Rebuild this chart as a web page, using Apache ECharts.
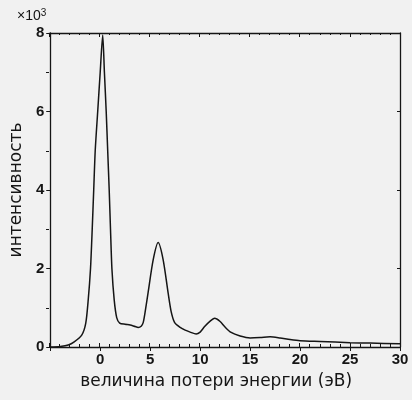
<!DOCTYPE html>
<html>
<head>
<meta charset="utf-8">
<script src="https://cdn.jsdelivr.net/npm/echarts@6/dist/echarts.min.js"></script>
<style>
  html, body { margin: 0; padding: 0; background: #f1f1f1; }
  #chart { width: 412px; height: 400px; }
</style>
</head>
<body>
<div id="chart"></div>
<script>
// Electron energy-loss spectrum: energy loss (eV) vs. intensity (counts)
const energyLoss = [
  -5, -4, -3.2, -2.6, -1.85, -1.45, -1.2, -0.97, -0.8, -0.65, -0.5, -0.25, 0.0, 0.25,
  0.42, 0.6, 0.75, 0.9, 1.03, 1.17, 1.4, 1.65, 1.95, 2.5, 3.0, 3.5, 3.8, 4.1, 4.3,
  4.5, 4.8, 5.3, 5.8, 6.3, 6.8, 7.1, 7.45, 8.0, 8.5, 9.0, 9.6, 10.0, 10.45, 11.0,
  11.45, 12.0, 12.45, 13.1, 14, 15, 16, 17, 18, 19, 20, 22, 25, 27, 30
];
const intensity = [
  0, 15, 50, 130, 300, 600, 1200, 2000, 3000, 4000, 5000, 6000, 7000, 7950,
  7000, 6000, 5000, 4000, 3000, 2000, 1200, 750, 610, 580, 560, 520, 500, 530, 620,
  900, 1400, 2220, 2660, 2220, 1370, 900, 620, 500, 430, 380, 330, 380, 520, 660,
  730, 650, 520, 370, 280, 230, 240, 260, 230, 190, 160, 140, 110, 100, 80
];
const xTicks = [0, 5, 10, 15, 20, 25, 30];
const yTicks = [0, 2, 4, 6, 8];

const ink = '#151515';
const font = 'Liberation Sans, Arial, sans-serif';
const nameFont = 'DejaVu Sans, sans-serif';
const plotRect = { left: 49, right: 12, top: 33, bottom: 53 };

const xRange = { type: 'value', min: -5, max: 30, interval: 5 };
const yRange = { type: 'value', min: 0, max: 8000, interval: 2000 };
const line = { show: true, onZero: false, lineStyle: { color: ink, width: 1.3 } };
const noLine = { show: false, onZero: false };

const chart = echarts.init(document.getElementById('chart'), null, { renderer: 'canvas' });
chart.setOption({
  backgroundColor: '#f1f1f1',
  animation: false,
  grid: [
    Object.assign({}, plotRect),
    Object.assign({}, plotRect),
    Object.assign({}, plotRect)
  ],
  graphic: [{
    type: 'text', left: 17, top: 8,
    style: {
      text: '×10{s|3}',
      font: '14px ' + font, fill: ink,
      rich: { s: { fontSize: 10, verticalAlign: 'top', padding: [0, 0, 6, 0], fill: ink } }
    }
  }],
  xAxis: [
    Object.assign({}, xRange, {
      gridIndex: 0, position: 'bottom', axisLine: line,
      axisTick: { show: true, inside: false, length: 4, lineStyle: { color: ink } },
      splitLine: { show: false },
      axisLabel: {
        color: ink, fontSize: 15, fontFamily: font, fontWeight: 'bold', margin: 5,
        formatter: v => (xTicks.indexOf(v) >= 0 ? String(v) : '')
      },
      name: 'величина потери энергии (эВ)', nameLocation: 'middle', nameGap: 26,
      nameTextStyle: { color: ink, fontSize: 17, fontFamily: nameFont, padding: [0, 18, 0, 0] }
    }),
    Object.assign({}, xRange, {
      gridIndex: 1, position: 'bottom', axisLine: noLine,
      axisTick: { show: true, inside: true, length: 4, lineStyle: { color: ink } },
      minorTick: { show: true, splitNumber: 5, length: 3, lineStyle: { color: ink } },
      splitLine: { show: false }, axisLabel: { show: false }
    }),
    Object.assign({}, xRange, {
      gridIndex: 2, position: 'top', axisLine: line,
      axisTick: { show: true, inside: true, length: 4, lineStyle: { color: ink } },
      minorTick: { show: true, splitNumber: 5, length: 2, lineStyle: { color: ink } },
      splitLine: { show: false }, axisLabel: { show: false }
    })
  ],
  yAxis: [
    Object.assign({}, yRange, {
      gridIndex: 0, position: 'left', axisLine: line,
      axisTick: { show: true, inside: false, length: 4, lineStyle: { color: ink } },
      splitLine: { show: false },
      axisLabel: {
        color: ink, fontSize: 15, fontFamily: font, fontWeight: 'bold', margin: 6,
        formatter: v => (yTicks.indexOf(v / 1000) >= 0 ? String(v / 1000) : '')
      },
      name: 'интенсивность', nameLocation: 'middle', nameRotate: 90, nameGap: 19,
      nameTextStyle: { color: ink, fontSize: 17, fontFamily: nameFont }
    }),
    Object.assign({}, yRange, {
      gridIndex: 1, position: 'left', axisLine: noLine,
      axisTick: { show: false },
      minorTick: { show: true, splitNumber: 2, length: 3, lineStyle: { color: ink } },
      splitLine: { show: false }, axisLabel: { show: false }
    }),
    Object.assign({}, yRange, {
      gridIndex: 2, position: 'right', axisLine: line,
      axisTick: { show: true, inside: true, length: 3, lineStyle: { color: ink } },
      splitLine: { show: false }, axisLabel: { show: false }
    })
  ],
  series: [{
    type: 'line',
    xAxisIndex: 0, yAxisIndex: 0,
    data: energyLoss.map((e, i) => [e, intensity[i]]),
    showSymbol: false,
    smooth: 0.25,
    clip: true,
    lineStyle: { color: ink, width: 1.5 }
  }]
});
</script>
</body>
</html>
